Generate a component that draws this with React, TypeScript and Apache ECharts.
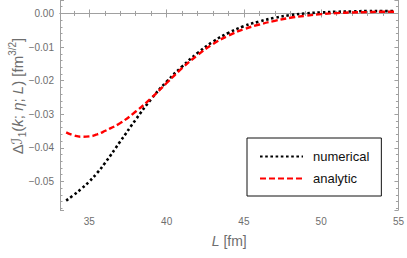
import React, { useEffect, useRef } from "react";
import * as echarts from "echarts";

const lValues = [33.5, 34, 34.5, 35, 35.5, 36, 37, 38, 39, 40, 41, 42, 43, 44, 45, 46, 47, 48, 49, 50, 51, 52, 53, 54, 54.8];
const numerical = [-0.0557, -0.054, -0.0521, -0.05, -0.0475, -0.0446, -0.0381, -0.0316, -0.0255, -0.0203, -0.0158, -0.0118, -0.0084, -0.0058, -0.0038, -0.0024, -0.0013, -0.0005, 0.0, 0.0003, 0.0005, 0.0006, 0.0007, 0.0007, 0.0007];
const analytic = [-0.0354, -0.0363, -0.0367, -0.0366, -0.036, -0.035, -0.0326, -0.0292, -0.0252, -0.0207, -0.0163, -0.0124, -0.0091, -0.0066, -0.0047, -0.0033, -0.0022, -0.0013, -0.0007, -0.0002, 0.0001, 0.0003, 0.0004, 0.0005, 0.0005];
const seriesNames = ["numerical", "analytic"];

const AXIS_COLOR = "#a0a0a0";
const LABEL_COLOR = "#6e6e6e";
const FONT = "Liberation Sans, Arial, sans-serif";

export default function App() {
  const ref = useRef<HTMLDivElement>(null);
  useEffect(() => {
    if (!ref.current) return;
    const chart = echarts.init(ref.current, null, { renderer: "svg" });
    const xMin = 33.1, xMax = 55, yMin = -0.0585, yMax = 0.004;
    const baseAxis = {
      type: "value" as const,
      axisLine: { show: true, lineStyle: { color: AXIS_COLOR, width: 1 } },
      axisTick: { show: true, inside: true, length: 4, lineStyle: { color: AXIS_COLOR } },
      minorTick: { show: true, splitNumber: 5, length: 2.5, lineStyle: { color: AXIS_COLOR } },
      splitLine: { show: false },
      minorSplitLine: { show: false },
    };
    chart.setOption({
      animation: false,
      backgroundColor: "#ffffff",
      grid: { left: 60, right: 8, top: 0, bottom: 48 },
      legend: {
        data: seriesNames,
        orient: "vertical",
        left: 247,
        top: 138,
        padding: [12, 12, 11, 12],
        itemWidth: 43,
        itemHeight: 14,
        itemGap: 9,
        backgroundColor: "#ffffff",
        borderColor: "#111111",
        borderWidth: 1,
        borderRadius: 0,
        itemStyle: { opacity: 0 },
        textStyle: { fontFamily: FONT, fontSize: 13, color: "#111111", padding: [0, 0, 0, 5] },
      },
      xAxis: [
        {
          ...baseAxis,
          min: xMin,
          max: xMax,
          position: "bottom",
          axisLabel: {
            show: true,
            showMinLabel: false,
            showMaxLabel: true,
            margin: 6,
            color: LABEL_COLOR,
            fontSize: 10,
            fontFamily: FONT,
          },
          name: "{i|L} [fm]",
          nameLocation: "middle",
          nameGap: 24,
          nameTextStyle: {
            color: LABEL_COLOR,
            fontSize: 14,
            fontFamily: FONT,
            rich: { i: { fontStyle: "italic", fontSize: 14, color: LABEL_COLOR, fontFamily: FONT } },
          },
        },
        {
          ...baseAxis,
          min: xMin,
          max: xMax,
          position: "top",
          axisLabel: { show: false },
        },
      ],
      yAxis: [
        {
          ...baseAxis,
          min: yMin,
          max: yMax,
          position: "left",
          axisLabel: {
            show: true,
            showMinLabel: false,
            showMaxLabel: false,
            margin: 6,
            color: LABEL_COLOR,
            fontSize: 10,
            fontFamily: FONT,
            formatter: (v: number) => (Math.abs(v) < 1e-9 ? "0.00" : v.toFixed(2).replace("-", "\u2212")),
          },
        },
        {
          ...baseAxis,
          min: yMin,
          max: yMax,
          position: "right",
          axisLabel: { show: false },
        },
      ],
      graphic: [
        {
          type: "text",
          x: 17,
          y: 96,
          rotation: Math.PI / 2,
          style: {
            text: "{n|\u0394}{s|\u2110}{sub|1}{n|(}{i|k}{n|; }{i|\u03b7}{n|; }{i|L}{n|) [fm}{sup|3/2}{n|]}",
            align: "center",
            verticalAlign: "middle",
            fill: LABEL_COLOR,
            rich: {
              n: { fontSize: 15, fontFamily: FONT, fill: LABEL_COLOR, lineHeight: 20 },
              s: { fontSize: 15, fontFamily: "DejaVu Sans, sans-serif", fontStyle: "italic", fill: LABEL_COLOR, lineHeight: 20 },
              i: { fontSize: 15, fontFamily: FONT, fontStyle: "italic", fill: LABEL_COLOR, lineHeight: 20 },
              sub: { fontSize: 10, fontFamily: FONT, fill: LABEL_COLOR, verticalAlign: "bottom", lineHeight: 13 },
              sup: { fontSize: 10, fontFamily: FONT, fill: LABEL_COLOR, verticalAlign: "top", lineHeight: 13 },
            },
          },
        },
      ],
      series: [
        {
          name: seriesNames[0],
          type: "line",
          xAxisIndex: 0,
          yAxisIndex: 0,
          smooth: true,
          symbol: "none",
          data: lValues.map((l, i) => [l, numerical[i]]),
          lineStyle: { color: "#000000", width: 2.6, type: [2.6, 2.6], cap: "butt" },
          itemStyle: { color: "#000000" },
        },
        {
          name: seriesNames[1],
          type: "line",
          xAxisIndex: 0,
          yAxisIndex: 0,
          smooth: true,
          symbol: "none",
          data: lValues.map((l, i) => [l, analytic[i]]),
          lineStyle: { color: "#ff0000", width: 2.4, type: [6, 3], cap: "butt" },
          itemStyle: { color: "#ff0000" },
        },
      ],
    });
    return () => chart.dispose();
  }, []);
  return <div ref={ref} style={{ width: 407, height: 258, position: "absolute", left: 0, top: 0 }} />;
}
